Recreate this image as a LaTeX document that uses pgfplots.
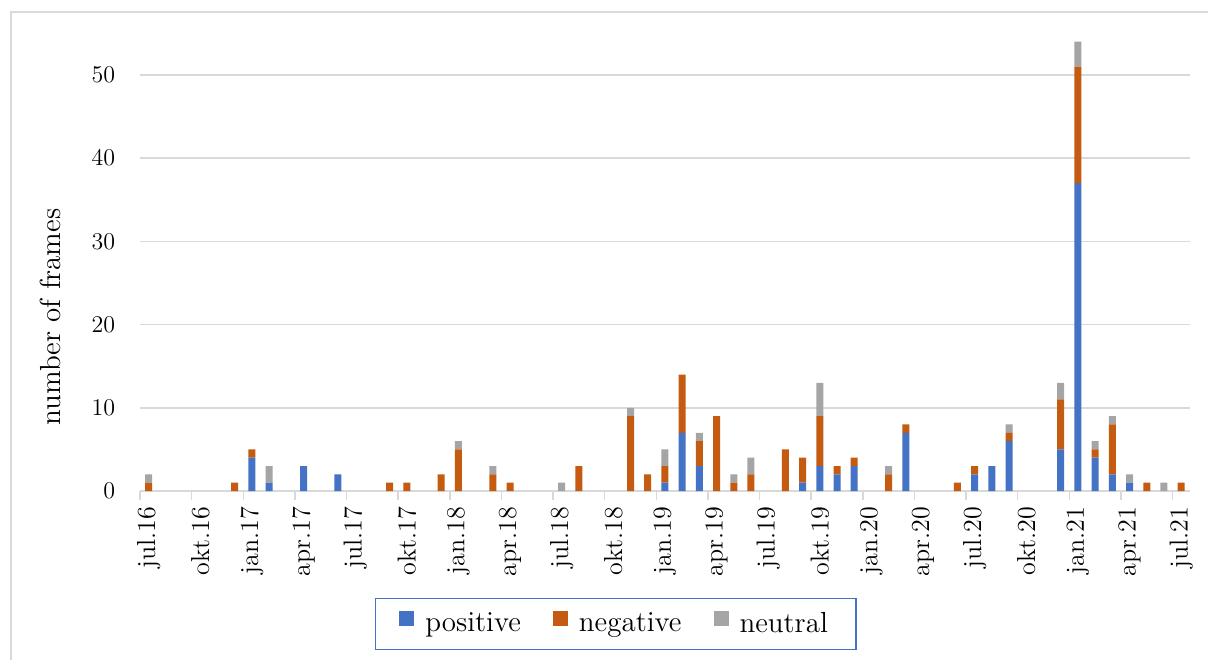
\documentclass[border=0pt]{standalone}
\usepackage{pgfplots}
\pgfplotsset{compat=1.18}
\usepackage{pgfplotstable}

\definecolor{posblue}{HTML}{4472C4}
\definecolor{negorange}{HTML}{C55A11}
\definecolor{neugray}{HTML}{A5A5A5}
\definecolor{gridgray}{HTML}{D9D9D9}

% month index (0 = jul.16 ... 60 = jul.21) and frame counts per tone
\pgfplotstableread{
m  pos neg neu
0  0   1   1
5  0   1   0
6  4   1   0
7  1   0   2
9  3   0   0
11 2   0   0
14 0   1   0
15 0   1   0
17 0   2   0
18 0   5   1
20 0   2   1
21 0   1   0
24 0   0   1
25 0   3   0
28 0   9   1
29 0   2   0
30 1   2   2
31 7   7   0
32 3   3   1
33 0   9   0
34 0   1   1
35 0   2   2
37 0   5   0
38 1   3   0
39 3   6   4
40 2   1   0
41 3   1   0
43 0   2   1
44 7   1   0
47 0   1   0
48 2   1   0
49 3   0   0
50 6   1   1
53 5   6   2
54 37  14  3
55 4   1   1
56 2   6   1
57 1   0   1
58 0   1   0
59 0   0   1
60 0   1   0
}\frames

\begin{document}
\begin{tikzpicture}
\begin{axis}[
  at={(0,0)}, anchor=south west,
  scale only axis, width=524.85pt, height=228.8pt,
  xmin=-0.5, xmax=60.5, ymin=0, ymax=55,
  ybar stacked, bar width=3.5pt,
  axis x line*=bottom, axis y line*=left,
  x axis line style={draw=gridgray, line width=0.75pt, -},
  y axis line style={draw=none},
  ytick={0,10,...,50},
  ymajorgrids, grid style={draw=gridgray, line width=0.75pt},
  major tick length=0pt,
  xtick={0,3,...,60},
  xticklabels={jul.16,okt.16,jan.17,apr.17,jul.17,okt.17,jan.18,apr.18,jul.18,okt.18,jan.19,apr.19,jul.19,okt.19,jan.20,apr.20,jul.20,okt.20,jan.21,apr.21,jul.21},
  tick label style={font=\fontsize{13pt}{15pt}\selectfont},
  xticklabel style={yshift=-4.5pt, rotate=90, anchor=east},
  yticklabel style={xshift=-9pt},
  extra x ticks={-0.5,2.5,...,59.5},
  extra x tick labels={},
  extra x tick style={major tick length=4.5pt, tick align=outside,
    tick style={draw=gridgray, line width=0.75pt}, grid=none},
  ylabel={number of frames},
  ylabel style={at={(axis description cs:-0.085,0.38)}, anchor=center,
    font=\fontsize{14.5pt}{17pt}\selectfont},
  legend style={at={(axis description cs:0.453,-0.2906)}, anchor=center,
    legend columns=3, draw=posblue, line width=0.75pt,
    font=\fontsize{14.5pt}{17pt}\selectfont,
    inner xsep=12pt, inner ysep=5pt,
    /tikz/every odd column/.append style={column sep=3.5pt},
    /tikz/every even column/.append style={column sep=14pt}},
  legend image code/.code={\fill[#1] (0pt,-1pt) rectangle (7.5pt,6.5pt);},
]
\addplot[fill=posblue, draw=none] table[x=m, y=pos] {\frames};
\addplot[fill=negorange, draw=none] table[x=m, y=neg] {\frames};
\addplot[fill=neugray, draw=none] table[x=m, y=neu] {\frames};
\legend{positive, negative, neutral}
\end{axis}
% chart area frame
\draw[gridgray, line width=0.75pt] (-64.55pt,-90pt) -- (-64.55pt,239.5pt) -- (540pt,239.5pt);
\pgfresetboundingbox
\path[use as bounding box] (-70.05pt,-84pt) rectangle (533.95pt,245.5pt);
\end{tikzpicture}
\end{document}
